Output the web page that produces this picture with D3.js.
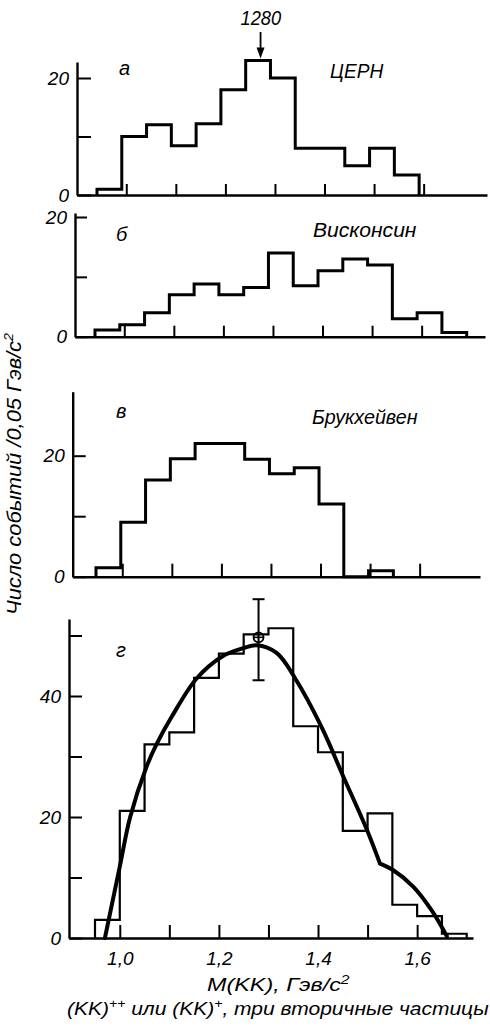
<!DOCTYPE html>
<html><head><meta charset="utf-8">
<script src="https://cdn.jsdelivr.net/npm/d3@7"></script>
<style>
html,body{margin:0;padding:0;background:#fff;}
svg{display:block;}
text{font-family:"Liberation Sans",Arial,sans-serif;font-style:italic;fill:#000;}
</style>
</head><body>
<svg id="chart" width="490" height="1029"></svg>
<script>
// ---------- data ----------
const binStart = 0.95;
const binWidth = 0.05;
// counts per 0.05 GeV bin, starting at 0.95
const countsCERN = [1, 10, 12, 8.4, 12.2, 18, 23, 20, 8, 8, 5, 8, 3.4];
const countsWisconsin = [1.1, 2, 4, 7, 8.8, 7, 8.2, 14, 8.5, 11, 13, 12, 3, 4, 0.7];
const countsBrookhaven = [1.5, 9, 16, 19.5, 22, 22, 19.4, 17, 18, 12, 0, 1];
const countsTotal = [3, 21, 32, 34, 43, 47, 50.2, 51.2, 35, 30.7, 17.7, 20.6, 5.5, 3.6, 0.7];
const massTicks = [1.0, 1.1, 1.2, 1.3, 1.4, 1.5, 1.6];
const massTickLabels = [1.0, 1.2, 1.4, 1.6];
const countTicksSmall = [0, 10, 20];
const countTicksBig = [0, 10, 20, 30, 40, 50];
const countLabelsSmall = [0, 20];
const countLabelsBig = [0, 20, 40];
// smooth fit curve, upper branch up to the kink at 1.525, then the tail
const fitMass = [0.970, 1.000, 1.021, 1.054, 1.074, 1.105, 1.155, 1.206, 1.249, 1.276, 1.317, 1.354, 1.407, 1.451, 1.498, 1.525];
const fitCount = [0, 11.8, 20, 28.3, 32.0, 36.6, 42.9, 46.5, 47.9, 48.4, 47.1, 42.9, 34.9, 26.7, 18.0, 12.3];
const tailMass = [1.525, 1.552, 1.592, 1.629, 1.660];
const tailCount = [12.3, 11.2, 8.5, 4.6, 0.3];
const peakMass = [1.28];
const peakValue = [49.7];
const peakError = [42.6, 56];
const peakLabel = "1280";
const panelLetters = ["а", "б", "в", "г"];
const labNames = ["ЦЕРН", "Висконсин", "Брукхейвен"];

// ---------- layout ----------
const svg = d3.select("#chart");
const x = d3.scaleLinear().domain([0.95, 1.70]).range([95, 466.7]);

const panels = [
  {counts: countsCERN, binOff: 2, tickOff: 6.5, y0: 195, yRef: 78, refVal: 20, axisX: 77, axisTop: 62, axisRight: 487,
   yTicks: countTicksSmall, yLabels: countLabelsSmall, xtl: 11, ytl: 14, sw: 3},
  {counts: countsWisconsin, binOff: 0, tickOff: 4.5, y0: 336.7, yRef: 217, refVal: 20, axisX: 75, axisTop: 213, axisRight: 485,
   yTicks: countTicksSmall, yLabels: countLabelsSmall, xtl: 11, ytl: 12, sw: 3},
  {counts: countsBrookhaven, binOff: 1, tickOff: 2.5, y0: 576.7, yRef: 455.7, refVal: 20, axisX: 72.7, axisTop: 391.7, axisRight: 480,
   yTicks: countTicksSmall, yLabels: countLabelsSmall, xtl: 13, ytl: 13, sw: 3},
  {counts: countsTotal, binOff: 0, tickOff: 0, y0: 938, yRef: 696, refVal: 40, axisX: 69, axisTop: 619, axisRight: 473,
   yTicks: countTicksBig, yLabels: countLabelsBig, xtl: 13, ytl: 13, sw: 2.2}
];

function shifted(scale, off) {
  return d3.scaleLinear().domain(scale.domain()).range(scale.range().map(r => r + off));
}

function fitText(parent, x0, y0, width, size, build, rotate) {
  const g = parent.append("g");
  const t = g.append("text").attr("font-size", size);
  build(t);
  const bw = t.node().getBBox().width;
  const s = width / bw;
  g.attr("transform", `translate(${x0},${y0})` + (rotate ? ` rotate(${rotate})` : "") + ` scale(${s},1)`);
  return g;
}

panels.forEach((p, pi) => {
  const g = svg.append("g");
  const y = d3.scaleLinear().domain([0, p.refVal]).range([p.y0, p.yRef]);
  const yAxisScale = d3.scaleLinear().domain([0, y.invert(p.axisTop)]).range([p.y0, p.axisTop]);
  const xt0 = shifted(x, p.tickOff);
  const xt = d3.scaleLinear().domain([xt0.invert(p.axisX), xt0.invert(p.axisRight)]).range([p.axisX, p.axisRight]);
  const bx = shifted(x, p.binOff);

  // y axis
  const ya = g.append("g").attr("transform", `translate(${p.axisX},0)`)
    .call(d3.axisLeft(yAxisScale).tickValues(p.yTicks).tickSizeInner(-p.ytl).tickSizeOuter(0).tickPadding(8)
      .tickFormat(d => p.yLabels.includes(d) ? String(d) : ""));
  ya.select(".domain").attr("stroke", "#000").attr("stroke-width", 2.4);
  ya.selectAll(".tick line").attr("stroke", "#000").attr("stroke-width", 2);
  ya.selectAll(".tick text").attr("font-size", 19);

  // x axis
  const xa = g.append("g").attr("transform", `translate(0,${p.y0})`)
    .call(d3.axisBottom(xt).tickValues(massTicks).tickSizeInner(-p.xtl).tickSizeOuter(0).tickPadding(14)
      .tickFormat(d => (pi === 3 && massTickLabels.some(v => Math.abs(v - d) < 1e-9)) ? d3.format(".1f")(d).replace(".", ",") : ""));
  xa.select(".domain").attr("stroke", "#000").attr("stroke-width", 2.4);
  xa.selectAll(".tick line").attr("stroke", "#000").attr("stroke-width", 2);
  xa.selectAll(".tick text").attr("font-size", 19);
  g.selectAll("g").attr("font-family", null).attr("font-size", null);

  // histogram
  const pts = [[bx(binStart), y(0)]];
  p.counts.forEach((c, i) => {
    const e0 = binStart + i * binWidth, e1 = binStart + (i + 1) * binWidth;
    pts.push([bx(e0), y(c)], [bx(e1), y(c)]);
  });
  pts.push([bx(binStart + p.counts.length * binWidth), y(0)]);
  g.append("path").attr("d", d3.line()(pts)).attr("fill", "none").attr("stroke", "#000")
    .attr("stroke-width", p.sw).attr("stroke-linejoin", "miter");

  if (pi === 3) {
    // fitted curve (two smooth pieces meeting at a kink)
    const line = d3.line().x(d => bx(d[0])).y(d => y(d[1])).curve(d3.curveCatmullRom.alpha(0.5));
    const dMain = line(fitMass.map((m, i) => [m, fitCount[i]]));
    const dTail = line(tailMass.map((m, i) => [m, tailCount[i]]));
    g.append("path").attr("d", dMain + dTail)
      .attr("fill", "none").attr("stroke", "#000").attr("stroke-width", 4).attr("stroke-linecap", "round");
    // error bar with marker
    const ex = bx(peakMass[0]);
    g.append("line").attr("x1", ex).attr("x2", ex).attr("y1", y(peakError[0])).attr("y2", y(peakError[1]))
      .attr("stroke", "#000").attr("stroke-width", 2);
    peakError.forEach(v => g.append("line").attr("x1", ex - 6).attr("x2", ex + 6).attr("y1", y(v)).attr("y2", y(v))
      .attr("stroke", "#000").attr("stroke-width", 2));
    g.append("circle").attr("cx", ex).attr("cy", y(peakValue[0])).attr("r", 5)
      .attr("fill", "none").attr("stroke", "#000").attr("stroke-width", 1.8);
    g.append("line").attr("x1", ex - 5).attr("x2", ex + 5).attr("y1", y(peakValue[0])).attr("y2", y(peakValue[0]))
      .attr("stroke", "#000").attr("stroke-width", 1.6);
  }
  if (pi === 0) {
    // arrow marking 1280
    const ax = bx(peakMass[0]);
    const tipY = y(d3.max(p.counts)) - 2;
    g.append("line").attr("x1", ax).attr("x2", ax).attr("y1", 32).attr("y2", tipY - 8)
      .attr("stroke", "#000").attr("stroke-width", 1.8);
    g.append("path").attr("d", `M${ax - 4},${tipY - 11}L${ax + 4},${tipY - 11}L${ax},${tipY}Z`).attr("fill", "#000");
    fitText(g, 240.5, 25, 41, 21, t => t.text(peakLabel));
  }
});

// panel letters
const letterPos = [[119, 75], [116, 241], [116, 418], [116, 657]];
panelLetters.forEach((l, i) => {
  svg.append("text").attr("x", letterPos[i][0]).attr("y", letterPos[i][1]).attr("font-size", 20).text(l);
});

// lab names
const namePos = [[330, 77.5, 54], [313, 236.5, 104], [312, 423.5, 106]];
labNames.forEach((n, i) => {
  fitText(svg, namePos[i][0], namePos[i][1], namePos[i][2], 21, t => t.text(n));
});

// y axis title
fitText(svg, 21, 615, 283, 20, t => {
  t.append("tspan").text("Число событий /0,05 Гэв/с");
  t.append("tspan").attr("dy", -8).attr("font-size", 13).text("2");
}, -90);

// x axis title
fitText(svg, 207, 991, 143, 18, t => {
  t.append("tspan").text("M(KK), Гэв/с");
  t.append("tspan").attr("dy", -7).attr("font-size", 12).text("2");
});

// caption
fitText(svg, 67, 1015, 422, 18, t => {
  t.append("tspan").text("(KK)");
  t.append("tspan").attr("dy", -7).attr("font-size", 12).text("++");
  t.append("tspan").attr("dy", 7).text(" или (KK)");
  t.append("tspan").attr("dy", -7).attr("font-size", 12).text("+");
  t.append("tspan").attr("dy", 7).text(", три вторичные частицы");
});
</script>
</body></html>
